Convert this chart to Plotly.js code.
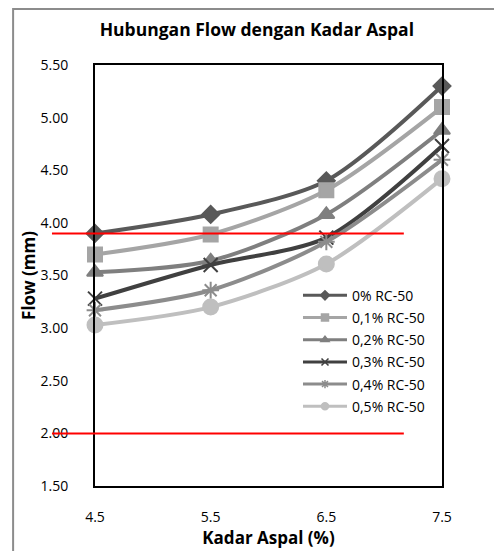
<!DOCTYPE html>
<html>
<head>
<meta charset="utf-8">
<script src="https://cdn.plot.ly/plotly-3.0.1.min.js"></script>
<style>
html,body{margin:0;padding:0;background:#fff;}
#chart{width:494px;height:551px;}
</style>
</head>
<body>
<div id="chart"></div>
<script>
const kadarAspal = [4.5, 5.5, 6.5, 7.5];
const seriesNames = ["0% RC-50", "0,1% RC-50", "0,2% RC-50", "0,3% RC-50", "0,4% RC-50", "0,5% RC-50"];
const flow0 = [3.90, 4.08, 4.40, 5.30];
const flow01 = [3.70, 3.89, 4.31, 5.10];
const flow02 = [3.53, 3.64, 4.08, 4.88];
const flow03 = [3.28, 3.60, 3.86, 4.73];
const flow04 = [3.17, 3.36, 3.82, 4.60];
const flow05 = [3.03, 3.20, 3.61, 4.42];
const batasAtas = 3.9;
const batasBawah = 2.0;

const allFlow = [flow0, flow01, flow02, flow03, flow04, flow05];
const colors = ["#595959", "#a5a5a5", "#7f7f7f", "#404040", "#8c8c8c", "#bfbfbf"];
const symbols = ["diamond", "square", "triangle-up", "x-thin-open", "asterisk-open", "circle"];
const sizes = [13, 14, 14, 14, 14, 15];

const traces = allFlow.map((ys, i) => ({
  x: kadarAspal,
  y: ys,
  name: seriesNames[i],
  type: "scatter",
  mode: "lines+markers",
  showlegend: false,
  line: {color: colors[i], width: 4, shape: "spline", smoothing: 0.8},
  marker: {symbol: symbols[i], size: sizes[i], color: colors[i], line: {color: colors[i], width: 2}},
  cliponaxis: false
}));

// legend entries (smaller markers as in the reference legend)
const legendTraces = seriesNames.map((nm, i) => ({
  x: [null], y: [null],
  name: nm,
  type: "scatter",
  mode: "lines+markers",
  legendgroup: "g" + i,
  line: {color: colors[i], width: 3},
  marker: {symbol: symbols[i], size: 7, color: colors[i], line: {color: colors[i], width: 1.5}}
}));

const font = "'Open Sans', sans-serif";

const layout = {
  width: 494, height: 551,
  margin: {l: 95, r: 52, t: 65, b: 65},
  paper_bgcolor: "#fff", plot_bgcolor: "#fff",
  font: {family: font, size: 14, color: "#000"},
  title: {text: "<b>Hubungan Flow dengan Kadar Aspal</b>", font: {family: font, size: 17.5, color: "#000"}, x: 0.52, xanchor: "center", y: 0.945, yanchor: "middle"},
  xaxis: {
    range: [4.5, 7.5], tickvals: kadarAspal, ticktext: ["4.5", "5.5", "6.5", "7.5"],
    showgrid: false, zeroline: false, showline: true, mirror: true, linecolor: "#000", linewidth: 2,
    ticks: "", ticklabelstandoff: 17, tickfont: {size: 14},
    title: {text: "<b>Kadar Aspal (%)</b>", font: {size: 17}, standoff: 3}
  },
  yaxis: {
    range: [1.5, 5.5], dtick: 0.5, tickformat: ".2f",
    showgrid: false, zeroline: false, showline: true, mirror: true, linecolor: "#000", linewidth: 2,
    ticks: "", ticklabelstandoff: 22, tickfont: {size: 14},
    title: {text: "<b>Flow (mm)</b>", font: {size: 17}, standoff: 1}
  },
  legend: {x: 0.585, y: 0.49, xanchor: "left", yanchor: "top", bgcolor: "rgba(0,0,0,0)", font: {size: 14}, tracegroupgap: 1, itemwidth: 44},
  shapes: [
    {type: "rect", xref: "paper", yref: "paper", x0: -0.236, x1: 1.3, y0: -0.3, y1: 1.133, line: {color: "#8c8c8c", width: 2}, layer: "below"},
    {type: "line", xref: "paper", yref: "y", x0: -0.124, x1: 0.89, y0: batasAtas, y1: batasAtas, line: {color: "#ff0000", width: 2}, layer: "above"},
    {type: "line", xref: "paper", yref: "y", x0: -0.124, x1: 0.89, y0: batasBawah, y1: batasBawah, line: {color: "#ff0000", width: 2}, layer: "above"}
  ]
};

Plotly.newPlot("chart", traces.concat(legendTraces), layout, {displayModeBar: false, staticPlot: true});
</script>
</body>
</html>
